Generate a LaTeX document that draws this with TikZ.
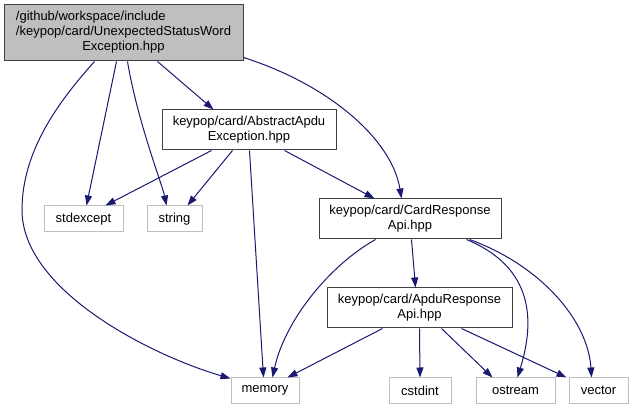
\documentclass[tikz,border=0pt]{standalone}
\usepackage{fontspec}
\setmainfont{Liberation Sans}
\usetikzlibrary{arrows.meta}
\definecolor{edgeblue}{HTML}{191970}
\definecolor{boxgray}{HTML}{BFBFBF}
\definecolor{darkborder}{HTML}{404040}
\tikzset{
  basebox/.style={rectangle, inner sep=0pt, font=\fontsize{13}{15}\selectfont, align=center, line width=1pt},
  mainbox/.style={basebox, draw=darkborder, fill=boxgray},
  filebox/.style={basebox, draw=darkborder, fill=white},
  extbox/.style={basebox, draw=boxgray, fill=white},
  dep/.style={draw=edgeblue, line width=1pt, -{Triangle[length=10pt,width=7pt]}},
}
\begin{document}
\begin{tikzpicture}[x=1pt,y=-1pt]
\useasboundingbox (0,0) rectangle (633,409);
\node[mainbox, minimum width=239pt, minimum height=56pt] (main) at (123.5,33)
  {\begin{tabular}{@{}l@{}}/github/workspace/include\\/keypop/card/UnexpectedStatusWord\\\multicolumn{1}{@{}c@{}}{Exception.hpp}\end{tabular}};
\node[filebox, minimum width=174pt, minimum height=40pt] (abs) at (249,130) {keypop/card/AbstractApdu\\Exception.hpp};
\node[extbox, minimum width=79pt, minimum height=26pt] (stdexcept) at (83.5,219) {stdexcept};
\node[extbox, minimum width=55pt, minimum height=26pt] (string) at (174.5,219) {string};
\node[extbox, minimum width=68pt, minimum height=25pt] (memory) at (265,390.5) {memory};
\node[filebox, minimum width=182pt, minimum height=40pt] (card) at (410,219) {keypop/card/CardResponse\\Api.hpp};
\node[filebox, minimum width=185pt, minimum height=40pt] (apdu) at (419.5,308) {keypop/card/ApduResponse\\Api.hpp};
\node[extbox, minimum width=62pt, minimum height=25pt] (cstdint) at (420,390.5) {cstdint};
\node[extbox, minimum width=79pt, minimum height=25pt] (ostream) at (515.5,390.5) {ostream};
\node[extbox, minimum width=59pt, minimum height=25pt] (vector) at (598.5,390.5) {vector};

% main
\draw[dep] ([xshift=154pt]main.south west) -- ([xshift=52pt]abs.north west);
\draw[dep] ([xshift=113pt]main.south west) -- ([xshift=43pt]stdexcept.north west);
\draw[dep] ([xshift=124pt]main.south west) .. controls +(10,60) and +(-4,-20) .. ([xshift=20pt]string.north west);
\draw[dep] ([xshift=91pt]main.south west) .. controls (60,100) and (22,150) .. (22,210)
  .. controls (22,290) and (150,355) .. ([yshift=-1pt]memory.north west);
\draw[dep] ([yshift=4pt]main.south east) .. controls (330,85) and (392,140) .. ([xshift=83pt]card.north west);
% abs
\draw[dep] ([xshift=50pt]abs.south west) -- ([xshift=62pt]stdexcept.north west);
\draw[dep] ([xshift=71pt]abs.south west) -- ([xshift=41pt]string.north west);
\draw[dep] ([xshift=88pt]abs.south west) -- ([xshift=33pt]memory.north west);
\draw[dep] ([xshift=123pt]abs.south west) -- ([xshift=56pt]card.north west);
% card
\draw[dep] ([xshift=57pt]card.south west) .. controls (330,265) and (285,320) .. ([xshift=42pt]memory.north west);
\draw[dep] ([xshift=93pt]card.south west) -- ([xshift=89pt]apdu.north west);
\draw[dep] ([xshift=148pt]card.south west) .. controls (540,270) and (532,330) .. ([xshift=42pt]ostream.north west);
\draw[dep] ([xshift=151pt]card.south west) .. controls (540,265) and (588,320) .. ([xshift=23pt]vector.north west);
% apdu
\draw[dep] ([xshift=56pt]apdu.south west) -- ([xshift=-12pt]memory.north east);
\draw[dep] ([xshift=93pt]apdu.south west) -- (cstdint.north);
\draw[dep] ([xshift=115pt]apdu.south west) -- ([xshift=17pt]ostream.north west);
\draw[dep] ([xshift=135pt]apdu.south west) -- ([xshift=-2pt]vector.north west);
\end{tikzpicture}
\end{document}
